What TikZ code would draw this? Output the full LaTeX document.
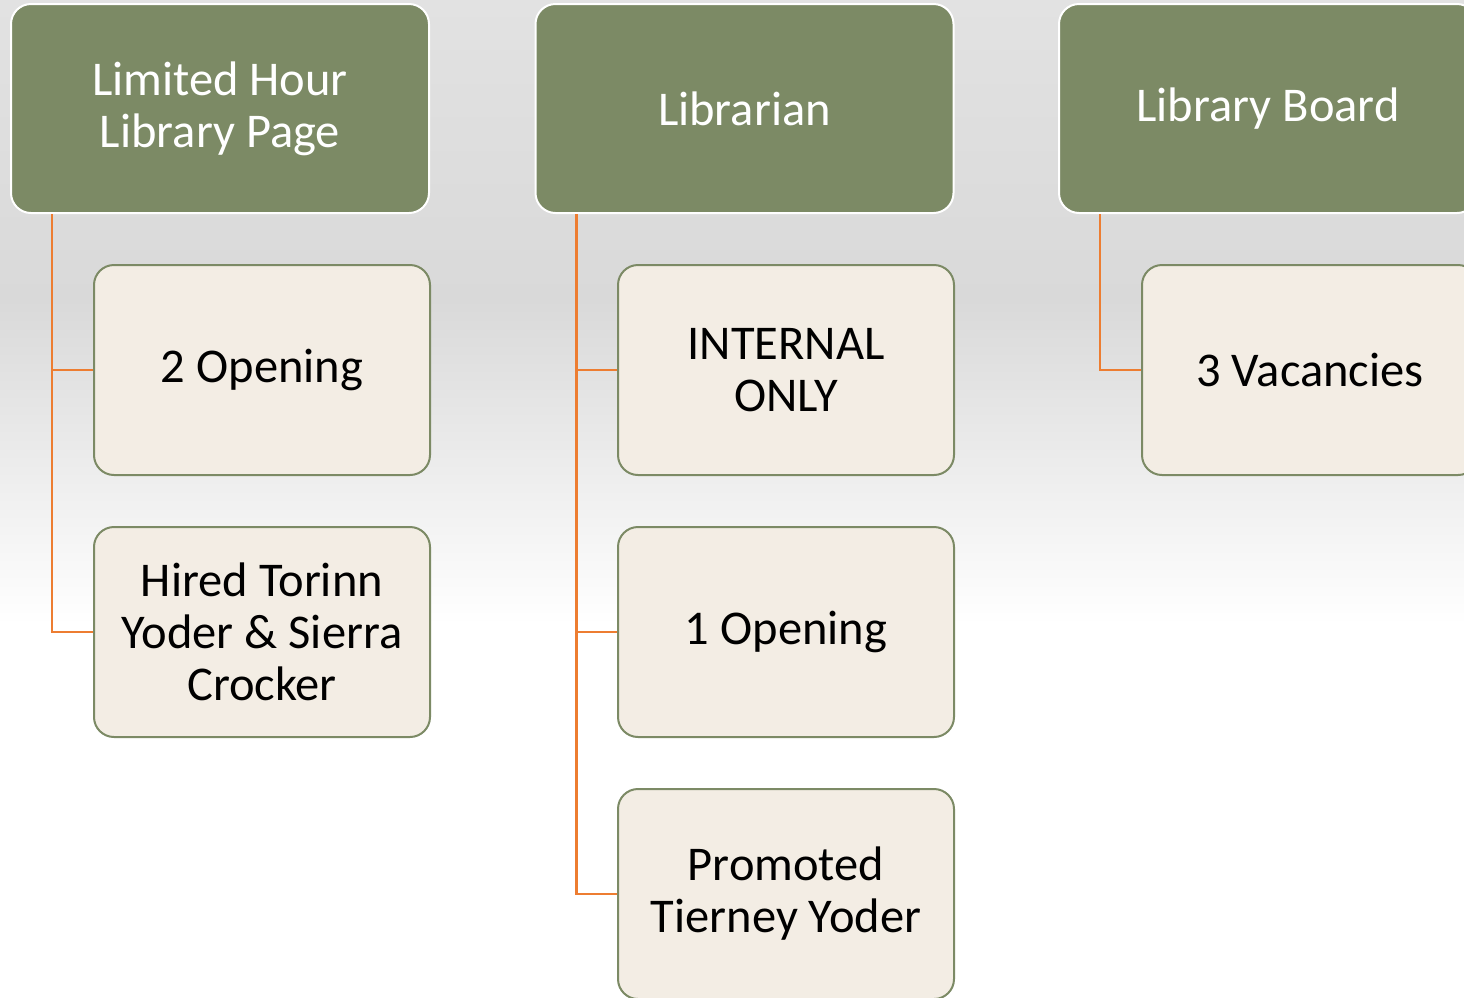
\documentclass[tikz,border=0pt]{standalone}
\usepackage{fontspec}
\setmainfont{Carlito}
\definecolor{headfill}{HTML}{7C8A65}
\definecolor{childfill}{HTML}{F3EDE4}
\definecolor{childline}{HTML}{7C8A65}
\definecolor{connorange}{HTML}{ED7D31}
\definecolor{bgtop}{HTML}{E2E2E2}
\definecolor{bgmid}{HTML}{D9D9D9}
\tikzset{
  headbox/.style={draw=white, line width=2pt, fill=headfill, rounded corners=20pt,
    minimum width=418pt, minimum height=209pt, inner sep=0pt, align=center,
    text=white, font=\fontsize{48.5}{52}\selectfont},
  childbox/.style={draw=childline, line width=2pt, fill=childfill, rounded corners=20pt,
    minimum width=336pt, minimum height=210pt, inner sep=0pt, align=center,
    text=black, font=\fontsize{48.5}{52}\selectfont},
  conn/.style={draw=connorange, line width=2.2pt}
}
\begin{document}
\begin{tikzpicture}[x=1pt,y=-1pt]
\useasboundingbox (0,0) rectangle (1464,997);
\clip (0,0) rectangle (1464,997);
% background
\fill[white] (0,0) rectangle (1464,997);
\shade[top color=bgtop, bottom color=bgmid] (0,0) rectangle (1464,300);
\shade[top color=bgmid, bottom color=white] (0,299) rectangle (1464,625);
% headers
\node[headbox] (h1) at (220,108.5) {Limited Hour\\Library Page};
\node[headbox] (h2) at (744.5,108.5) {Librarian};
\node[headbox] (h3) at (1268,108.5) {Library Board};
% children
\node[childbox] (c11) at (262,370) {2 Opening};
\node[childbox] (c12) at (262,632) {Hired Torinn\\Yoder \& Sierra\\Crocker};
\node[childbox] (c21) at (786,370) {INTERNAL\\ONLY};
\node[childbox] (c22) at (786,632) {1 Opening};
\node[childbox] (c23) at (786,894) {Promoted\\Tierney Yoder};
\node[childbox] (c31) at (1310,370) {3 Vacancies};
% connectors
\draw[conn] ([xshift=42pt]h1.south west) |- (c11.west);
\draw[conn] ([xshift=42pt]h1.south west) |- (c12.west);
\draw[conn] ([xshift=42pt]h2.south west) |- (c21.west);
\draw[conn] ([xshift=42pt]h2.south west) |- (c22.west);
\draw[conn] ([xshift=42pt]h2.south west) |- (c23.west);
\draw[conn] ([xshift=42pt]h3.south west) |- (c31.west);
\end{tikzpicture}
\end{document}
